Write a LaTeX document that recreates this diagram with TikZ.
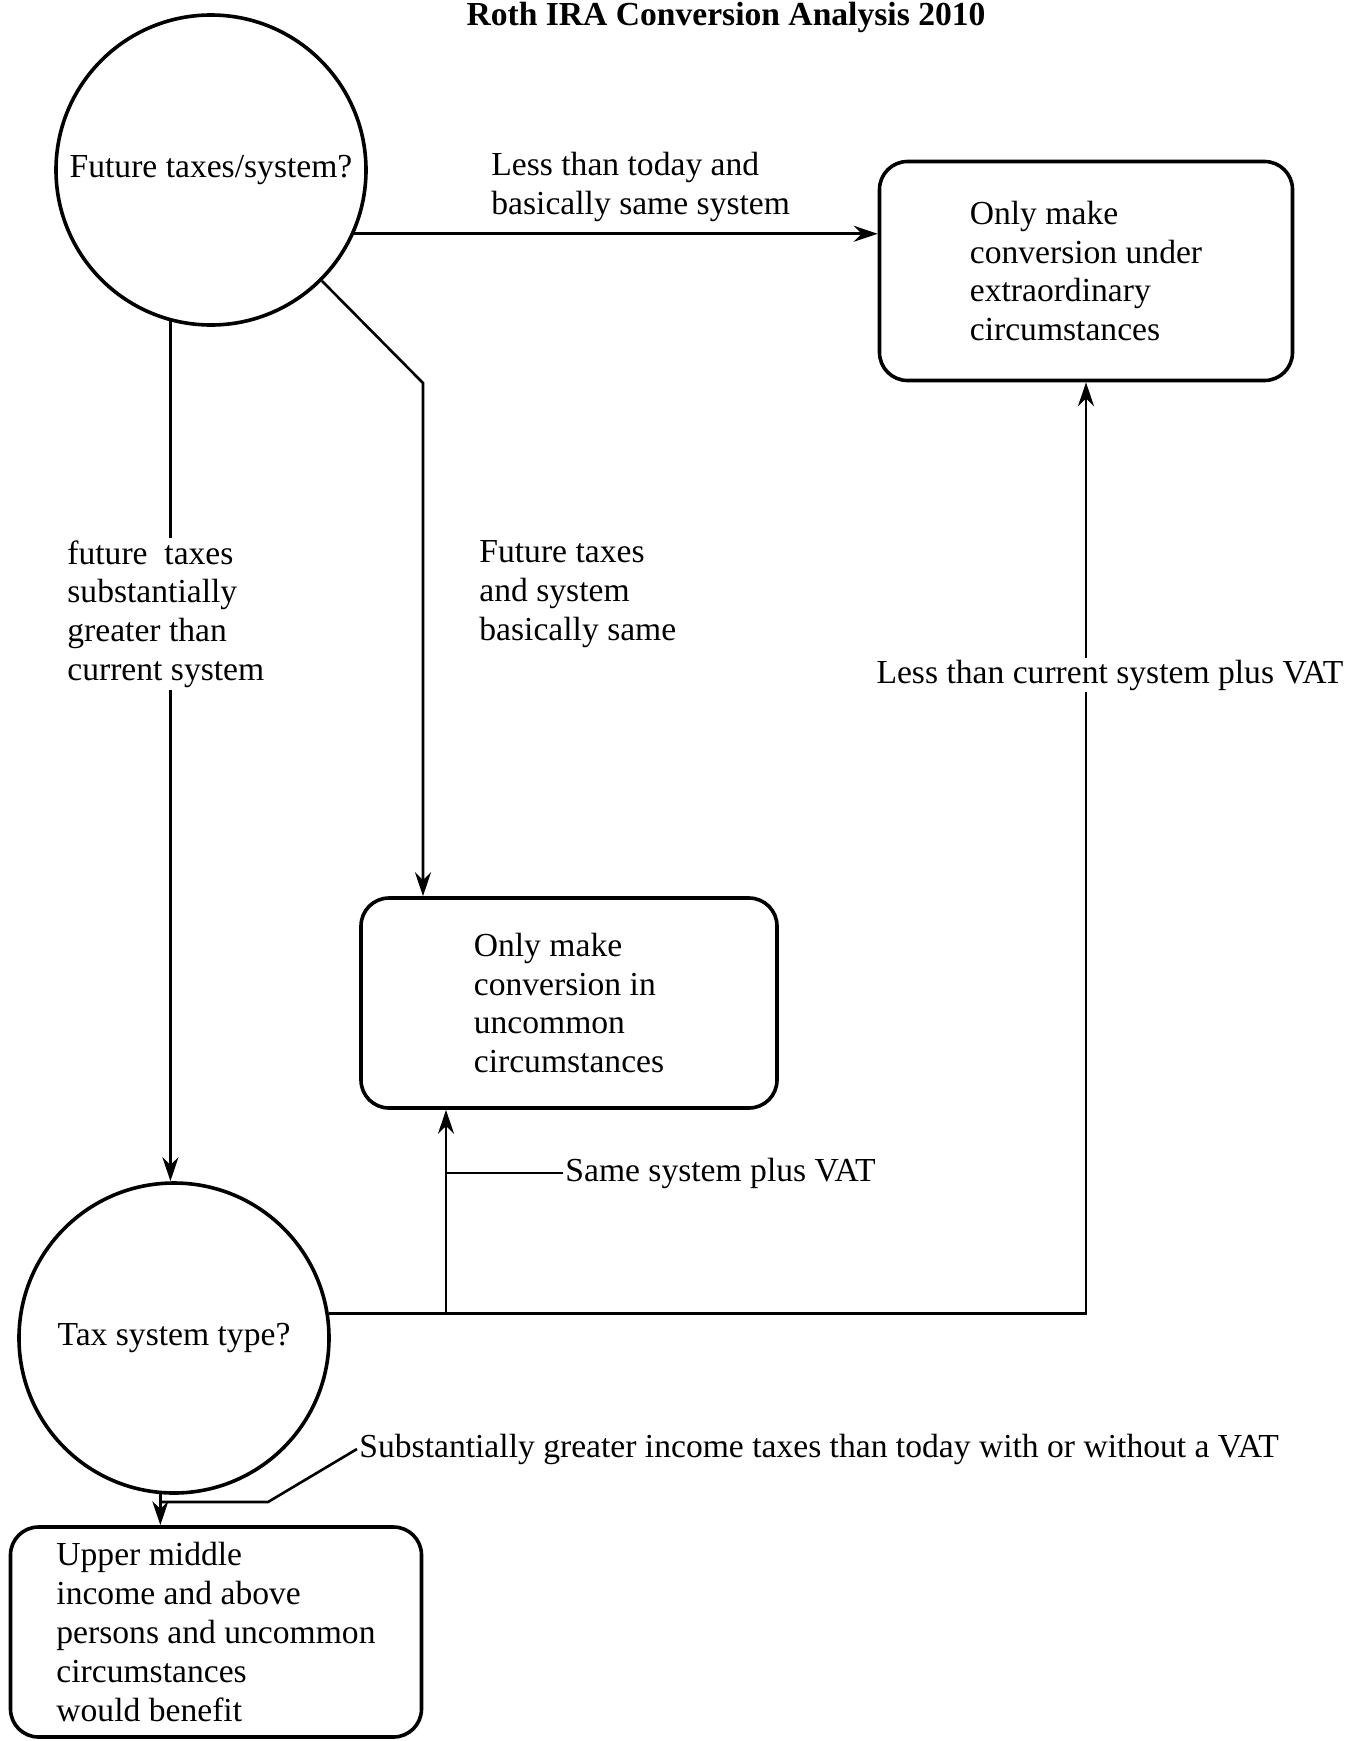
\documentclass[tikz,border=0pt]{standalone}
\usepackage{fontspec}
\setmainfont{Liberation Serif}
\usetikzlibrary{arrows.meta}

\begin{document}
\begin{tikzpicture}[x=0.5pt,y=-0.5pt,
		every node/.style={font=\fontsize{16.8}{19.4}\selectfont},
		decision/.style={circle,draw,line width=1.8pt,minimum size=155pt,inner sep=0pt},
		outcome/.style={rectangle,rounded corners=14pt,draw,line width=1.8pt,align=left,inner sep=0pt},
		lbl/.style={align=left,inner sep=1pt},
		link/.style={line width=1.3pt},
		arr/.style={link,-{Stealth[length=12pt,width=8pt]}}]
		\useasboundingbox (0,0) rectangle (1362,1741);
		
		%title
		\node (title) at (726,25) [anchor=base,font=\fontsize{16.8}{19.4}\selectfont\bfseries]{Roth IRA Conversion Analysis 2010};
		
		%questions
		\node (future) at (211,170) [decision]{Future taxes/system?};
		\node (type) at (174,1338) [decision]{Tax system type?};
		
		%outcomes
		\node (extra) at (1086,271) [outcome,minimum width=206.5pt,minimum height=109.5pt]{Only make\\conversion under\\extraordinary\\circumstances};
		\node (uncommon) at (569,1003) [outcome,minimum width=208pt,minimum height=105pt]{Only make\\conversion in\\uncommon\\circumstances};
		\node (benefit) at (216,1632) [outcome,minimum width=205.5pt,minimum height=105pt]{Upper middle\\income and above\\persons and uncommon\\circumstances\\would benefit};
		
		%bends
		\coordinate (bend) at (423,383);
		\coordinate (fork) at (446,1314);
		\coordinate (tap) at (446,1173);
		\coordinate (kink) at (268,1502);
		\coordinate (drop) at (160,1502);
		
		%arrows
		\draw[arr] (future.-24) -- (future.-24 -| extra.west);
		\draw[arr] (future.-45) -- (bend) -- (bend |- uncommon.north);
		\draw[arr] (future.255) -- (future.255 |- type.north);
		\draw[arr] (type.9) -| (extra.south);
		\draw[arr] (fork) -- (fork |- uncommon.south);
		\draw[arr] (type.265) -- (type.265 |- benefit.north);
		
		%labels
		\node (lessToday) at (489,187) [lbl,anchor=west]{Less than today and\\basically same system};
		\node (sameFuture) at (477,594) [lbl,anchor=west]{Future taxes\\and system\\basically same};
		\node (greater) at (65,614) [lbl,anchor=west,fill=white]{future\ \ taxes\\substantially\\greater than\\current system};
		\node (lessVat) at (1110,675) [lbl,fill=white]{Less than current system plus VAT};
		\node (sameVat) at (563,1173) [lbl,anchor=west]{Same system plus VAT};
		\node (higher) at (357,1449) [lbl,anchor=west]{Substantially greater income taxes than today with or without a VAT};
		\draw[link] (tap) -- (sameVat.west);
		\draw[link] (higher.west) -- (kink) -- (drop);
\end{tikzpicture}
\end{document}
